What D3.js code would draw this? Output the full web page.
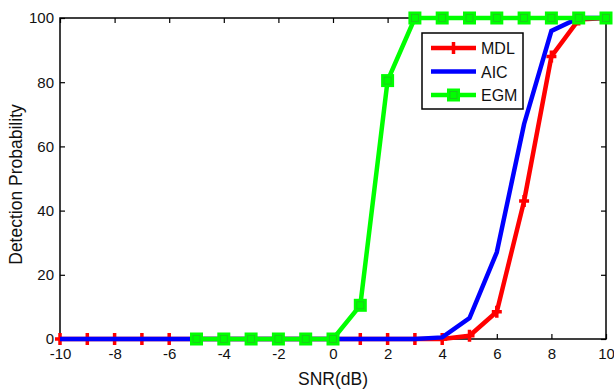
<!DOCTYPE html>
<html>
<head>
<meta charset="utf-8">
<script src="https://cdn.jsdelivr.net/npm/d3@7"></script>
<style>
  body { margin: 0; background: #fff; }
  text { font-family: "Liberation Sans", Arial, sans-serif; fill: #111; }
</style>
</head>
<body>
<svg id="chart" width="614" height="389"></svg>
<script>
// data
var snrAll = [-10,-9,-8,-7,-6,-5,-4,-3,-2,-1,0,1,2,3,4,5,6,7,8,9,10];
var mdl    = [0,0,0,0,0,0,0,0,0,0,0,0,0,0,0,1,8.5,43,88,99.5,100];
var aic    = [0,0,0,0,0,0,0,0,0,0,0,0,0,0,0.5,6.5,27,67,96,100,100];
var snrEgm = [-5,-4,-3,-2,-1,0,1,2,3,4,5,6,7,8,9,10];
var egm    = [0,0,0,0,0,0,10.5,80.5,100,100,100,100,100,100,100,100];
var xTicks = [-10,-8,-6,-4,-2,0,2,4,6,8,10];
var yTicks = [0,20,40,60,80,100];
var seriesNames = ["MDL","AIC","EGM"];
var seriesColors = ["#ff0000","#0000ff","#00ff00"];

var svg = d3.select("#chart");
var pLeft = 60, pRight = 606, pTop = 18, pBottom = 339;
var x = d3.scaleLinear().domain([-10,10]).range([pLeft,pRight]);
var y = d3.scaleLinear().domain([0,100]).range([pBottom,pTop]);
var fmt = function(d){ return String(d); };

// axes box with inward ticks
var g = svg.append("g");
g.append("rect").attr("x",pLeft).attr("y",pTop).attr("width",pRight-pLeft).attr("height",pBottom-pTop)
  .attr("fill","none").attr("stroke","#000").attr("stroke-width",1.5);

g.append("g").attr("transform","translate(0,"+pBottom+")")
  .call(d3.axisBottom(x).tickValues(xTicks).tickSizeInner(-5).tickSizeOuter(0).tickPadding(9).tickFormat(fmt))
  .call(function(s){ s.select(".domain").remove(); s.selectAll("line").attr("stroke-width",1.2); s.selectAll("text").attr("font-size",15).attr("font-family","Liberation Sans, Arial").attr("fill","#111"); });
g.append("g").attr("transform","translate(0,"+pTop+")")
  .call(d3.axisTop(x).tickValues(xTicks).tickSizeInner(-5).tickSizeOuter(0).tickFormat(""))
  .call(function(s){ s.select(".domain").remove(); s.selectAll("line").attr("stroke-width",1.2); });
g.append("g").attr("transform","translate("+pLeft+",0)")
  .call(d3.axisLeft(y).tickValues(yTicks).tickSizeInner(-5).tickSizeOuter(0).tickPadding(6).tickFormat(fmt))
  .call(function(s){ s.select(".domain").remove(); s.selectAll("line").attr("stroke-width",1.2); s.selectAll("text").attr("font-size",15).attr("font-family","Liberation Sans, Arial").attr("fill","#111"); });
g.append("g").attr("transform","translate("+pRight+",0)")
  .call(d3.axisRight(y).tickValues(yTicks).tickSizeInner(-5).tickSizeOuter(0).tickFormat(""))
  .call(function(s){ s.select(".domain").remove(); s.selectAll("line").attr("stroke-width",1.2); });

svg.append("text").attr("x",333).attr("y",385).attr("text-anchor","middle")
  .attr("font-size",17.5).text("SNR(dB)");
svg.append("text").attr("transform","translate(22,"+((pTop+pBottom)/2+6)+") rotate(-90)")
  .attr("text-anchor","middle").attr("font-size",17.5).text("Detection Probability");

var line = d3.line().x(function(d){ return x(d[0]); }).y(function(d){ return y(d[1]); });

function plusMarker(sel, cx, cy, c) {
  sel.append("path").attr("d","M"+(cx-5)+","+cy+"H"+(cx+5)+"M"+cx+","+(cy-6)+"V"+(cy+6))
    .attr("stroke",c).attr("stroke-width",3.5).attr("fill","none");
}
function squareMarker(sel, cx, cy, c) {
  sel.append("rect").attr("x",cx-6.5).attr("y",cy-6.5).attr("width",13).attr("height",13).attr("fill",c);
  sel.append("rect").attr("x",cx-3.5).attr("y",cy-3.5).attr("width",7).attr("height",7)
    .attr("fill","none").attr("stroke","#22c022").attr("stroke-width",0.8);
}

var plot = svg.append("g");
// MDL
var mdlData = snrAll.map(function(s,i){ return [s, mdl[i]]; });
plot.append("path").datum(mdlData).attr("d",line).attr("fill","none")
  .attr("stroke",seriesColors[0]).attr("stroke-width",4.5).attr("stroke-linejoin","miter");
mdlData.forEach(function(d){ plusMarker(plot, x(d[0]), y(d[1]), seriesColors[0]); });
// AIC
var aicData = snrAll.map(function(s,i){ return [s, aic[i]]; });
plot.append("path").datum(aicData).attr("d",line).attr("fill","none")
  .attr("stroke",seriesColors[1]).attr("stroke-width",4.5).attr("stroke-linejoin","miter");
// EGM
var egmData = snrEgm.map(function(s,i){ return [s, egm[i]]; });
plot.append("path").datum(egmData).attr("d",line).attr("fill","none")
  .attr("stroke",seriesColors[2]).attr("stroke-width",4.5).attr("stroke-linejoin","miter");
egmData.forEach(function(d){ squareMarker(plot, x(d[0]), y(d[1]), seriesColors[2]); });

// legend
var lg = svg.append("g");
lg.append("rect").attr("x",422).attr("y",33).attr("width",101).attr("height",76)
  .attr("fill","#fff").attr("stroke","#000").attr("stroke-width",1.5);
seriesNames.forEach(function(n,i){
  var ly = 48 + i*23.5;
  lg.append("line").attr("x1",431).attr("x2",476).attr("y1",ly).attr("y2",ly)
    .attr("stroke",seriesColors[i]).attr("stroke-width",4.5);
  if (i === 0) plusMarker(lg, 453.5, ly, seriesColors[0]);
  if (i === 2) squareMarker(lg, 453.5, ly, seriesColors[2]);
  lg.append("text").attr("x",481).attr("y",ly+6).attr("font-size",16).text(n);
});
</script>
</body>
</html>
